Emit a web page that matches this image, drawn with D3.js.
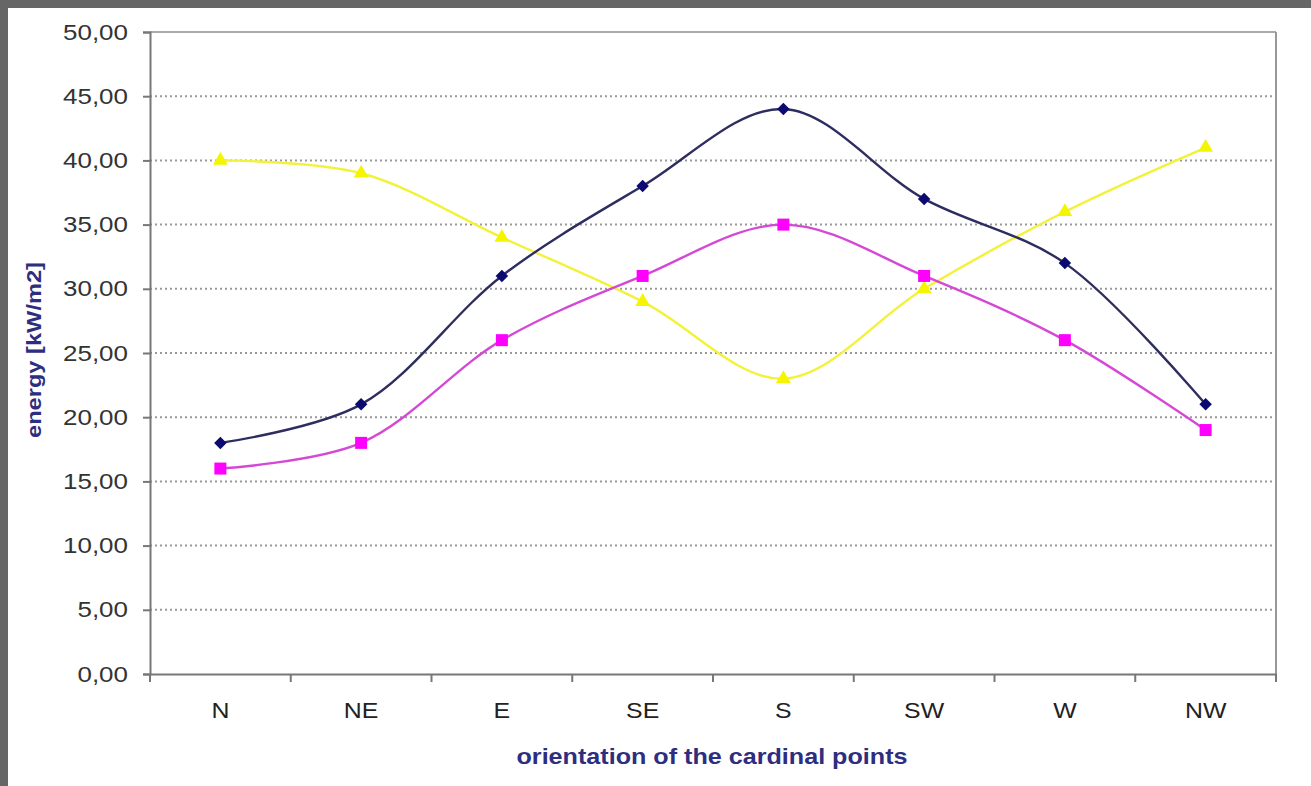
<!DOCTYPE html>
<html><head><meta charset="utf-8">
<script src="https://cdn.jsdelivr.net/npm/d3@7"></script>
<style>
html,body{margin:0;padding:0;background:#fff;}
svg{display:block;}
</style></head>
<body>
<script>
const categories = ["N","NE","E","SE","S","SW","W","NW"];
const seriesNavy = [18,21,31,38,44,37,32,21];
const seriesMagenta = [16,18,26,31,35,31,26,19];
const seriesYellow = [40,39,34,29,23,30,36,41];
const yTicks = [0,5,10,15,20,25,30,35,40,45,50];

const W = 1311, H = 786;
const svg = d3.select("body").append("svg").attr("width", W).attr("height", H);
svg.append("rect").attr("x",0).attr("y",0).attr("width",W).attr("height",H).attr("fill","#666");
svg.append("rect").attr("x",8).attr("y",8).attr("width",W-8).attr("height",H-8).attr("fill","#fff");

const L = 150, R = 1276, T = 32, B = 674;
const x = d3.scaleBand().domain(categories).range([L,R]).padding(0);
const y = d3.scaleLinear().domain([0,50]).range([B,T]);

function stretch(sel, k){
  sel.each(function(){
    const len = this.getComputedTextLength();
    d3.select(this).attr("textLength", len*k).attr("lengthAdjust","spacingAndGlyphs");
  });
}

// grid
svg.append("g").selectAll("line").data(yTicks.filter(d=>d>0 && d<50)).join("line")
  .attr("x1",L).attr("x2",R).attr("y1",d=>y(d)).attr("y2",d=>y(d))
  .attr("stroke","#999").attr("stroke-width",2).attr("stroke-dasharray","2,3");

svg.append("line").attr("x1",L).attr("x2",R).attr("y1",T).attr("y2",T).attr("stroke","#aaa").attr("stroke-width",2);
svg.append("line").attr("x1",R).attr("x2",R).attr("y1",T).attr("y2",B).attr("stroke","#999").attr("stroke-width",2);

// y axis
const yAxis = d3.axisLeft(y).tickValues(yTicks).tickSize(7).tickPadding(15)
  .tickFormat(d=>d3.format(".2f")(d).replace(".",","));
const gy = svg.append("g").attr("transform",`translate(${L},0)`).call(yAxis);
gy.select(".domain").attr("stroke","#777").attr("stroke-width",2);
gy.selectAll(".tick line").attr("stroke","#777").attr("stroke-width",2);
gy.selectAll("text").attr("fill","#333").style("font-family","Liberation Sans, Arial, sans-serif").style("font-size","22px");
stretch(gy.selectAll("text"), 1.18);

// x axis
const xAxis = d3.axisBottom(x).tickSize(0).tickPadding(28);
const gx = svg.append("g").attr("transform",`translate(0,${B})`).call(xAxis);
gx.select(".domain").attr("stroke","#777").attr("stroke-width",2);
gx.selectAll("text").attr("fill","#222").style("font-family","Liberation Sans, Arial, sans-serif").style("font-size","22px");
stretch(gx.selectAll("text"), 1.13);
const bounds = categories.map(c=>x(c)).concat([R]);
svg.append("g").selectAll("line").data(bounds).join("line")
  .attr("x1",d=>d).attr("x2",d=>d).attr("y1",B).attr("y2",B+8)
  .attr("stroke","#777").attr("stroke-width",2);

const cx = c => x(c) + x.bandwidth()/2;
const line = d3.line().x((d,i)=>cx(categories[i])).y(d=>y(d)).curve(d3.curveCatmullRom.alpha(0.5));

function drawSeries(data, lineColor, markColor, shape, size, rot){
  svg.append("path").datum(data).attr("d",line).attr("fill","none")
    .attr("stroke",lineColor).attr("stroke-width",2.4);
  const sym = d3.symbol().type(shape).size(size);
  svg.append("g").selectAll("path").data(data).join("path")
    .attr("transform",(d,i)=>`translate(${cx(categories[i])},${y(d)}) rotate(${rot})`)
    .attr("d",sym).attr("fill",markColor);
}
drawSeries(seriesYellow, "#f2f23a", "#f5f500", d3.symbolTriangle, 95, 0);
drawSeries(seriesMagenta, "#d548d5", "#ff00ff", d3.symbolSquare, 144, 0);
drawSeries(seriesNavy, "#2d2d60", "#0a0a70", d3.symbolSquare, 78, 45);

// titles
svg.append("text").attr("x",712).attr("y",764).attr("text-anchor","middle")
  .attr("fill","#2e2e80").style("font-family","Liberation Sans, Arial, sans-serif")
  .style("font-size","22px").style("font-weight","bold")
  .attr("textLength",391).attr("lengthAdjust","spacingAndGlyphs")
  .text("orientation of the cardinal points");
svg.append("text").attr("transform","translate(41,350) rotate(-90)").attr("text-anchor","middle")
  .attr("fill","#2e2e80").style("font-family","Liberation Sans, Arial, sans-serif")
  .style("font-size","20px").style("font-weight","bold")
  .attr("textLength",176).attr("lengthAdjust","spacingAndGlyphs")
  .text("energy [kW/m2]");
</script>
</body></html>
